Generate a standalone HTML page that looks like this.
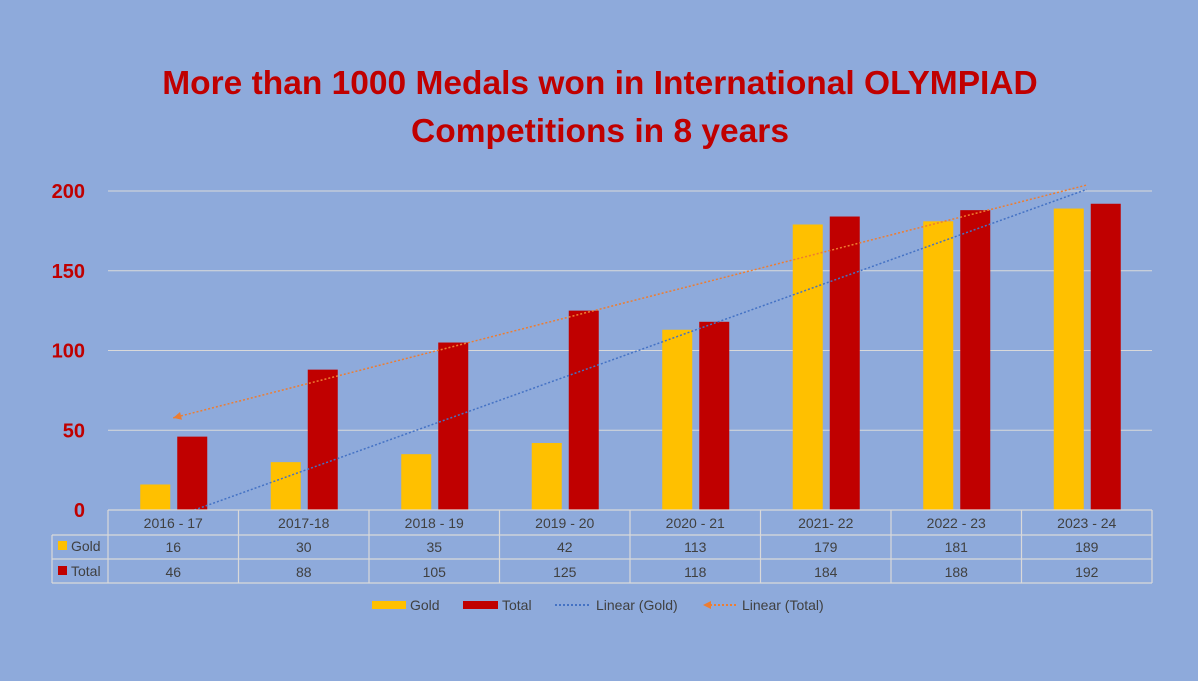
<!DOCTYPE html>
<html><head><meta charset="utf-8"><style>
html,body{margin:0;padding:0;background:#8EAADB;}
svg{display:block;font-family:"Liberation Sans",Arial,sans-serif;}
</style></head><body>
<svg id="chart" width="1198" height="681" viewBox="0 0 1198 681">
<rect x="0" y="0" width="1198" height="681" fill="#8EAADB"/>
<g fill="#C00000" font-weight="bold" font-size="33.5" text-anchor="middle">
<text x="600" y="94">More than 1000 Medals won in International OLYMPIAD</text>
<text x="600" y="142">Competitions in 8 years</text>
</g>
<g id="grid"></g>
<g id="yaxis"></g>
<g id="bars"></g>
<g id="trends"></g>
<g id="table"></g>
<g font-size="14" fill="#404040">
<rect x="372" y="601" width="34" height="8" fill="#FFC000"/>
<text x="410" y="610" fill="#404040">Gold</text>
<rect x="463" y="601" width="35" height="8" fill="#C00000"/>
<text x="502" y="610" fill="#404040">Total</text>
<line x1="555" y1="605" x2="591" y2="605" stroke="#4472C4" stroke-width="2" stroke-dasharray="2,2"/>
<text x="596" y="610" fill="#404040">Linear (Gold)</text>
<line x1="706" y1="605" x2="738" y2="605" stroke="#ED7D31" stroke-width="2" stroke-dasharray="2,2"/>
<polygon points="703,605 711,601 711,609" fill="#ED7D31"/>
<text x="742" y="610" fill="#404040">Linear (Total)</text>
</g>
</svg>
<script>
const categories=["2016 - 17","2017-18","2018 - 19","2019 - 20","2020 - 21","2021- 22","2022 - 23","2023 - 24"];
const goldValues=[16,30,35,42,113,179,181,189];
const totalValues=[46,88,105,125,118,184,188,192];
const yTicks=[0,50,100,150,200];
const NS="http://www.w3.org/2000/svg";
const L=108,R=1152,Y0=510,Y200=191;
const cw=(R-L)/categories.length;
const y=v=>Y0-(v/200)*(Y0-Y200);
const xc=i=>L+cw*(i+0.5);
function mk(tag,attrs,parent){const e=document.createElementNS(NS,tag);for(const k in attrs)e.setAttribute(k,attrs[k]);parent.appendChild(e);return e;}
const grid=document.getElementById('grid'),yaxis=document.getElementById('yaxis'),bars=document.getElementById('bars'),trends=document.getElementById('trends'),table=document.getElementById('table');
yTicks.forEach(t=>{
 if(t>0){const g=mk('line',{x1:L,x2:R,y1:y(t),y2:y(t),stroke:'#D9D9D9','stroke-width':1},grid);
 
 }
 const tx=mk('text',{x:85,y:y(t)+7,'text-anchor':'end','font-size':20,'font-weight':'bold',fill:'#C00000'},yaxis);
 tx.textContent=t;
 
 
});
categories.forEach((c,i)=>{
 const g=mk('rect',{x:xc(i)-33,y:y(goldValues[i]),width:30,height:Y0-y(goldValues[i]),fill:'#FFC000'},bars);
 
 
 const t=mk('rect',{x:xc(i)+4,y:y(totalValues[i]),width:30,height:Y0-y(totalValues[i]),fill:'#C00000'},bars);
 
 
});
function reg(vals){const n=vals.length;let mx=0,my=0;vals.forEach((v,i)=>{mx+=i;my+=v});mx/=n;my/=n;let sxy=0,sxx=0;vals.forEach((v,i)=>{sxy+=(i-mx)*(v-my);sxx+=(i-mx)*(i-mx)});const s=sxy/sxx;return [s,my-s*mx];}
function trend(vals,color,name,arrow){
 const [s,b]=reg(vals);const n=vals.length;
 let x0=0;if(b<0){x0=-b/s;}
 const x1=n-1;
 const px=i=>L+cw*(i+0.5);
 const ln=mk('line',{x1:px(x0),y1:y(s*x0+b),x2:px(x1),y2:y(s*x1+b),stroke:color,'stroke-width':1.5,'stroke-dasharray':'2,2'},trends);
 
 
 if(arrow){const ax=px(x0),ay=y(s*x0+b);const ang=Math.atan2(y(s*x1+b)-ay,px(x1)-ax);
  const p=[[ax,ay],[ax+8*Math.cos(ang)-4*Math.sin(ang),ay+8*Math.sin(ang)+4*Math.cos(ang)],[ax+8*Math.cos(ang)+4*Math.sin(ang),ay+8*Math.sin(ang)-4*Math.cos(ang)]];
  const a=mk('polygon',{points:p.map(q=>q.join(',')).join(' '),fill:color},trends);
  
  }
}
trend(goldValues,'#4472C4','linear-gold',false);
trend(totalValues,'#ED7D31','linear-total',true);
const tc='#D9D9D9';
const rows=[510,535,559,583];
[[L,R,rows[0]],[52,R,rows[1]],[52,R,rows[2]],[52,R,rows[3]]].forEach(a=>{const e=mk('line',{x1:a[0],x2:a[1],y1:a[2],y2:a[2],stroke:tc,'stroke-width':1.2},table);
 
 });
const v0=mk('line',{x1:52,x2:52,y1:rows[1],y2:rows[3],stroke:tc,'stroke-width':1.2},table);


for(let i=0;i<=categories.length;i++){const e=mk('line',{x1:L+cw*i,x2:L+cw*i,y1:rows[0],y2:rows[3],stroke:tc,'stroke-width':1.2},table);
 
 }
categories.forEach((c,i)=>{
 const h=mk('text',{x:xc(i),y:528,'text-anchor':'middle','font-size':14,fill:'#404040'},table);h.textContent=c;
 
 
 const g=mk('text',{x:xc(i),y:552,'text-anchor':'middle','font-size':14,fill:'#404040'},table);g.textContent=goldValues[i];
 
 
 const t=mk('text',{x:xc(i),y:577,'text-anchor':'middle','font-size':14,fill:'#404040'},table);t.textContent=totalValues[i];
 
 
});
[['Gold','#FFC000',541],['Total','#C00000',566]].forEach(r=>{
 const s=mk('rect',{x:58,y:r[2],width:9,height:9,fill:r[1]},table);
 
 
 const t=mk('text',{x:71,y:r[2]+10,'font-size':14,fill:'#404040'},table);t.textContent=r[0];
 
 
});
</script>
</body></html>
